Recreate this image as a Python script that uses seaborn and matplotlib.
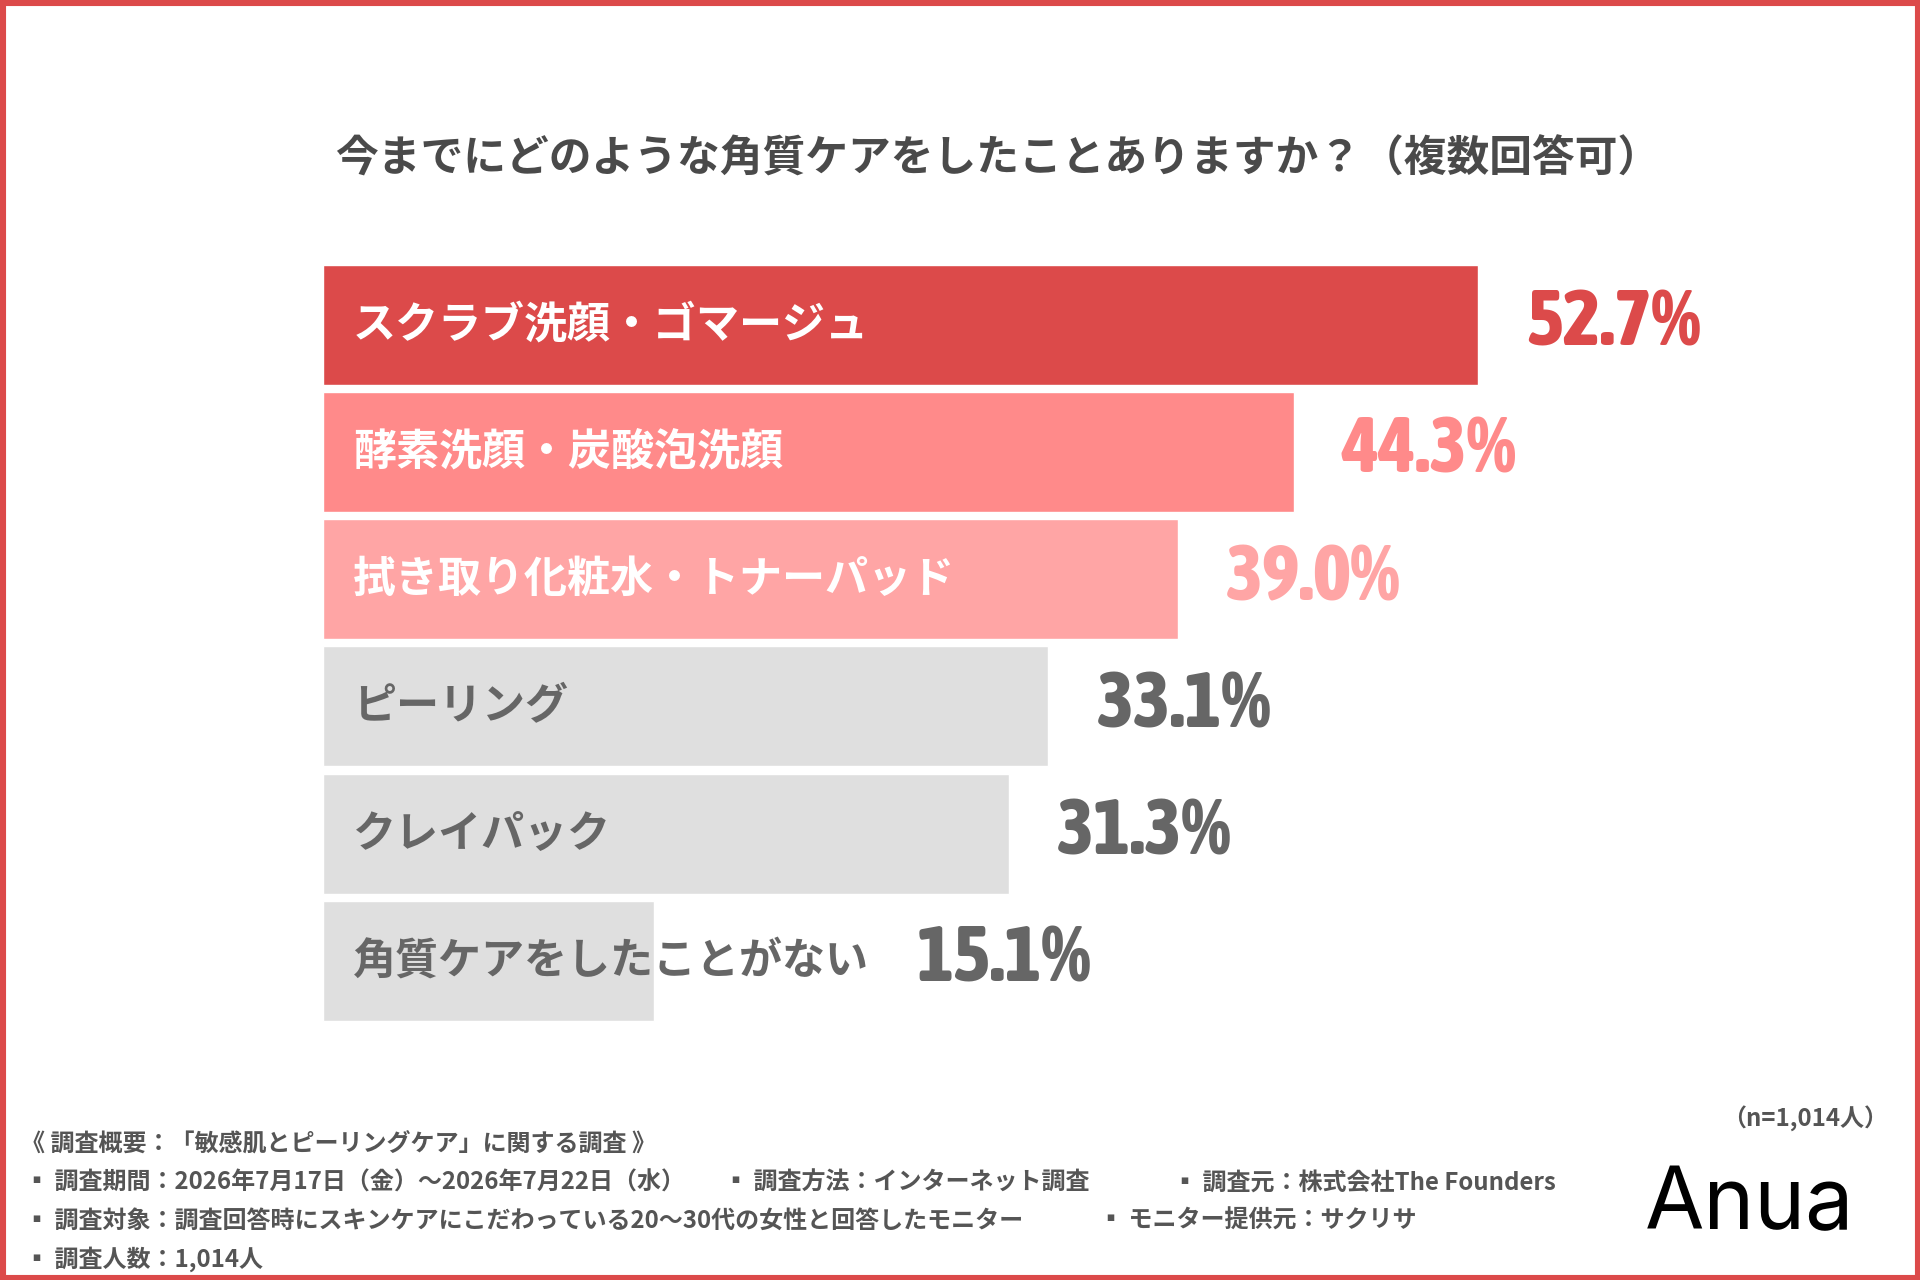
import seaborn as sns
import pandas as pd
from matplotlib import pyplot as plt
from matplotlib import font_manager as fm
from matplotlib.patches import Rectangle

categories = ['スクラブ洗顔・ゴマージュ', '酵素洗顔・炭酸泡洗顔', '拭き取り化粧水・トナーパッド',
              'ピーリング', 'クレイパック', '角質ケアをしたことがない']
values = [52.7, 44.3, 39.0, 33.1, 31.3, 15.1]
bar_colors = ['#DC4A4A', '#FF8A8A', '#FFA5A5', '#DFDFDF', '#DFDFDF', '#DFDFDF']
name_colors = ['white', 'white', 'white', '#666666', '#666666', '#666666']
value_colors = ['#DC4A4A', '#FF8A8A', '#FFA5A5', '#666666', '#666666', '#666666']

title = '今までにどのような角質ケアをしたことありますか？（複数回答可）'
note_head = '《 調査概要：「敏感肌とピーリングケア」に関する調査 》'
notes = [
    ('▪ 調査期間：2026年7月17日（金）～2026年7月22日（水）', '▪ 調査方法：インターネット調査', '▪ 調査元：株式会社The Founders'),
    ('▪ 調査対象：調査回答時にスキンケアにこだわっている20～30代の女性と回答したモニター', '▪ モニター提供元：サクリサ', ''),
    ('▪ 調査人数：1,014人', '', ''),
]
n_label = '（n=1,014人）'

df = pd.DataFrame({'item': categories, 'pct': values})


def find_narrow_bold():
    # look for any installed bold condensed/narrow face for the big numbers
    best = None
    for f in fm.fontManager.ttflist:
        key = (f.name + ' ' + f.fname).lower()
        narrow = ('condensed' in key or 'narrow' in key
                  or f.stretch in ('condensed', 'semi-condensed', 'extra-condensed', 'ultra-condensed'))
        if not narrow:
            continue
        w = f.weight if isinstance(f.weight, int) else fm.weight_dict.get(f.weight, 400)
        if w < 600:
            continue
        rank = 0 if 'extra' in key or 'narrow' in key else 1
        if best is None or rank < best[0]:
            best = (rank, f.fname)
    return best[1] if best else None


sns.set_theme(style='white')
jp = ['Noto Sans CJK JP', 'DejaVu Sans']
plt.rcParams['font.family'] = jp

DPI = 100
fig = plt.figure(figsize=(19.2, 12.8), dpi=DPI)
fig.patch.set_facecolor('white')
ax = fig.add_axes([323 / 1920, 0.1995, 0.799, 0.5966])

sns.barplot(data=df, x='pct', y='item', hue='item', palette=bar_colors,
            legend=False, width=0.943, orient='h', saturation=1, ax=ax)
ax.set_xlim(0, 70)
ax.set_ylim(5.5, -0.5)
for s in ax.spines.values():
    s.set_visible(False)
ax.set_xticks([])
ax.set_yticks([])
ax.set_xlabel('')
ax.set_ylabel('')
ax.set_facecolor('none')

# category names inside the bars
name_texts = []
for i, (name, c) in enumerate(zip(categories, name_colors)):
    t = ax.annotate(name, xy=(0, i), xytext=(21.6, 0), textcoords='offset points',
                    ha='left', va='center', fontsize=31, fontweight='bold', color=c)
    name_texts.append(t)

narrow = find_narrow_bold()
if narrow:
    num_font = fm.FontProperties(fname=narrow, size=57)
else:
    num_font = fm.FontProperties(family='Noto Sans CJK JP', weight='bold', size=54)

# value labels after the bar (or after the name if it sticks out)
fig.canvas.draw()
renderer = fig.canvas.get_renderer()
gap = 48
for i, (v, c) in enumerate(zip(values, value_colors)):
    bar_end = ax.transData.transform((v, i))[0]
    text_end = name_texts[i].get_window_extent(renderer).x1
    start = max(bar_end, text_end) + gap
    ax.annotate(f'{v:.1f}%', xy=(v, i), xytext=((start - bar_end) * 72 / DPI, -15),
                textcoords='offset points', ha='left', va='baseline',
                fontproperties=num_font, color=c)

fig.text(998 / 1920, 1 - 159 / 1280, title, ha='center', va='center',
         fontsize=30.8, fontweight='bold', color='#4A4A4A')

# survey notes
note_kw = dict(fontsize=17.3, fontweight='bold', color='#555555', va='center', family=jp)
fig.text(21 / 1920, 1 - 1145 / 1280, note_head, ha='left', **note_kw)
rows_y = [1183, 1221, 1259]
cols_x = [[25, 724, 1173], [25, 1099, 0], [25, 0, 0]]
for row, y, xs in zip(notes, rows_y, cols_x):
    for txt, x in zip(row, xs):
        if txt:
            fig.text(x / 1920, 1 - y / 1280, txt, ha='left', **note_kw)
fig.text(1888 / 1920, 1 - 1118 / 1280, n_label, ha='right', **note_kw)

fig.text(1750 / 1920, 1 - 1229 / 1280, 'Anua', ha='center', va='baseline',
         fontsize=62, color='black', family=['Inter', 'Lato', 'DejaVu Sans'])

fig.add_artist(Rectangle((0, 0), 1, 1, transform=fig.transFigure, fill=False,
                         edgecolor='#DC4A4A', linewidth=8, clip_on=False))

fig.savefig('out.png', dpi=DPI)
